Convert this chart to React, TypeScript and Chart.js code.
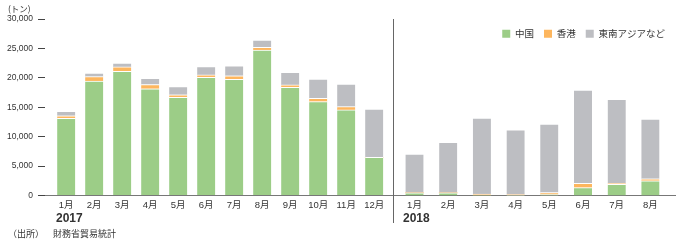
import React, { useEffect, useRef } from 'react';
import { Chart, registerables } from 'chart.js';

Chart.register(...registerables);

// ---------- data ----------
const months2017 = ['1月', '2月', '3月', '4月', '5月', '6月', '7月', '8月', '9月', '10月', '11月', '12月'];
const months2018 = ['1月', '2月', '3月', '4月', '5月', '6月', '7月', '8月'];
const seriesNames = ['中国', '香港', '東南アジアなど'];

const china2017 = [13100, 19450, 21100, 18150, 16700, 20100, 19750, 24700, 18400, 15950, 14550, 6500];
const hongKong2017 = [450, 750, 750, 700, 430, 400, 600, 500, 400, 550, 550, 0];
const seAsia2017 = [750, 600, 650, 1050, 1370, 1400, 1700, 1200, 2150, 3300, 3850, 8200];

const china2018 = [450, 450, 0, 50, 150, 1330, 1900, 2500];
const hongKong2018 = [0, 0, 250, 100, 350, 740, 150, 350];
const seAsia2018 = [6600, 8600, 12900, 11000, 11650, 15860, 14300, 10150];

const yMin = 0;
const yMax = 30000;
const yStep = 5000;

const unitLabel = '(トン)';
const yearLabels = ['2017', '2018'];
const sourcePrefix = '（出所）';
const sourceName = '財務省貿易統計';

// ---------- styling / layout ----------
const COLORS = ['#9ccd87', '#fdb65e', '#bdbec2'];
const FONT = "'Liberation Sans', 'Noto Sans CJK JP', sans-serif";
const JP_FONT = "'Noto Sans CJK JP', sans-serif";
const TEXT = '#333333';
const W = 690;
const H = 242;
const PLOT_TOP = 19;
const PLOT_BOTTOM = 195.5;
const Y_AXIS_W = 45;
const SPLIT_X = 393;
const PLOT_RIGHT = 675;
const LEGEND_TOP = 19;

type Panel = {
  labels: string[];
  series: number[][];
  left: number;
  right: number;
  firstCenter: number;
  spacing: number;
  showY: boolean;
  showLegend: boolean;
  separator: boolean;
};

const separatorPlugin = {
  id: 'yearSeparator',
  afterDraw(chart: any) {
    const { ctx, chartArea } = chart;
    const x = Math.round(chartArea.left) + 0.5;
    ctx.save();
    ctx.strokeStyle = '#666666';
    ctx.lineWidth = 1;
    ctx.beginPath();
    ctx.moveTo(x, PLOT_TOP);
    ctx.lineTo(x, chart.height - 19);
    ctx.stroke();
    ctx.restore();
  },
};

function makeChart(canvas: HTMLCanvasElement, p: Panel) {
  const xMin = 1 - (p.firstCenter - p.left) / p.spacing;
  const xMax = xMin + (p.right - p.left) / p.spacing;
  const datasets = p.series.map((values, s) => ({
    label: seriesNames[s],
    data: values.map((v, i) => ({ x: i + 1, y: v })),
    backgroundColor: COLORS[s],
    borderColor: '#ffffff',
    borderWidth: { top: 1, right: 0, bottom: 0, left: 0 },
    borderSkipped: 'start',
    barThickness: 18,
  }));
  const chart = new Chart(canvas, {
    type: 'bar',
    data: { datasets } as any,
    plugins: p.separator ? [separatorPlugin] : [],
    options: {
      responsive: false,
      animation: false,
      events: [],
      layout: {
        padding: {
          left: p.showY ? 0 : p.left,
          right: W - p.right,
          top: p.showLegend ? LEGEND_TOP : PLOT_TOP,
          bottom: 0,
        },
      },
      plugins: {
        tooltip: { enabled: false },
        legend: {
          display: p.showLegend,
          position: 'top',
          align: 'end',
          labels: {
            boxWidth: 8,
            boxHeight: 8,
            padding: 10,
            color: TEXT,
            font: { family: JP_FONT, size: 9.5 },
            generateLabels: (c: any) =>
              Chart.defaults.plugins.legend.labels
                .generateLabels(c)
                .map((l: any) => ({ ...l, lineWidth: 0 })),
          },
        },
      },
      scales: {
        x: {
          type: 'linear',
          stacked: true,
          offset: false,
          bounds: 'data',
          min: xMin,
          max: xMax,
          grid: { display: false, drawTicks: false },
          border: { display: true, color: '#777777', width: 1 },
          afterBuildTicks: (scale: any) => {
            scale.ticks = p.labels.map((_, i) => ({ value: i + 1 }));
          },
          afterFit: (scale: any) => {
            scale.height = H - PLOT_BOTTOM;
          },
          ticks: {
            autoSkip: false,
            maxRotation: 0,
            minRotation: 0,
            padding: 4,
            color: TEXT,
            font: { family: FONT, size: 9.5 },
            callback: (v: any) => p.labels[Number(v) - 1] ?? '',
          },
        },
        y: {
          display: p.showY,
          stacked: true,
          min: yMin,
          max: yMax,
          grid: {
            drawOnChartArea: false,
            drawTicks: true,
            tickLength: 7,
            color: '#444444',
            tickColor: '#444444',
          },
          border: { display: false },
          afterFit: (scale: any) => {
            if (p.showY) scale.width = Y_AXIS_W;
          },
          ticks: {
            stepSize: yStep,
            padding: 5,
            color: TEXT,
            font: { family: FONT, size: 8.5 },
            callback: (v: any) => Number(v).toLocaleString('en-US'),
          },
        },
      },
    } as any,
  });
  // keep the same value-to-pixel scale in both panels (the legend shortens the right one)
  const area = chart.chartArea;
  const pxPerUnit = (PLOT_BOTTOM - PLOT_TOP) / (yMax - yMin);
  const fittedMax = yMin + (area.bottom - area.top) / pxPerUnit;
  if (Math.abs(fittedMax - yMax) > 1e-6) {
    (chart.options as any).scales.y.max = fittedMax;
    chart.update();
  }
  return chart;
}

function Text(props: { x: number; y: number; size: number; bold?: boolean; family?: string; children: any }) {
  return (
    <div
      style={{
        position: 'absolute',
        left: props.x,
        top: props.y,
        fontSize: props.size,
        lineHeight: `${props.size}px`,
        fontWeight: props.bold ? 700 : 400,
        fontFamily: props.family ?? JP_FONT,
        color: TEXT,
        whiteSpace: 'nowrap',
      }}
    >
      {props.children}
    </div>
  );
}

export default function App() {
  const leftRef = useRef<HTMLCanvasElement>(null);
  const rightRef = useRef<HTMLCanvasElement>(null);

  useEffect(() => {
    const left = makeChart(leftRef.current!, {
      labels: months2017,
      series: [china2017, hongKong2017, seAsia2017],
      left: Y_AXIS_W,
      right: SPLIT_X,
      firstCenter: 66.2,
      spacing: 28,
      showY: true,
      showLegend: false,
      separator: false,
    });
    const right = makeChart(rightRef.current!, {
      labels: months2018,
      series: [china2018, hongKong2018, seAsia2018],
      left: SPLIT_X,
      right: PLOT_RIGHT,
      firstCenter: 414.5,
      spacing: 33.7,
      showY: false,
      showLegend: true,
      separator: true,
    });
    return () => {
      left.destroy();
      right.destroy();
    };
  }, []);

  return (
    <div
      style={{
        position: 'absolute',
        left: 0,
        top: 0,
        width: W,
        height: H,
        background: '#ffffff',
        overflow: 'hidden',
      }}
    >
      <canvas ref={leftRef} width={W} height={H} style={{ position: 'absolute', left: 0, top: 0 }} />
      <canvas ref={rightRef} width={W} height={H} style={{ position: 'absolute', left: 0, top: 0 }} />
      <Text x={8} y={3.5} size={8.5}>{unitLabel}</Text>
      <Text x={56} y={211.5} size={12} bold family={FONT}>{yearLabels[0]}</Text>
      <Text x={403} y={211.5} size={12} bold family={FONT}>{yearLabels[1]}</Text>
      <Text x={8} y={228.5} size={9}>{sourcePrefix}</Text>
      <Text x={53} y={228.5} size={9}>{sourceName}</Text>
    </div>
  );
}
